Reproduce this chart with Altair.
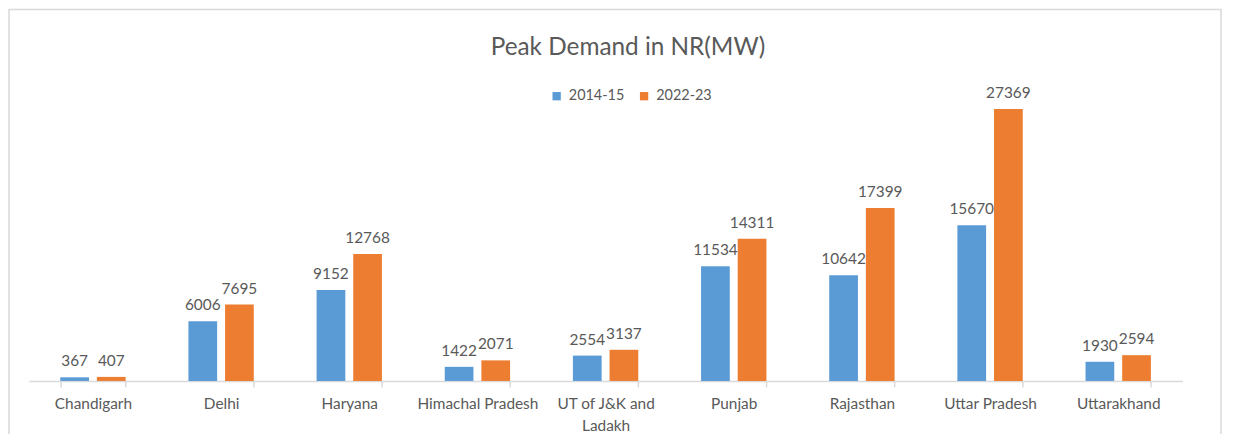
import altair as alt
import pandas as pd

states = ["Chandigarh", "Delhi", "Haryana", "Himachal Pradesh", "UT of J&K and Ladakh",
          "Punjab", "Rajasthan", "Uttar Pradesh", "Uttarakhand"]
fy_2014_15 = [367, 6006, 9152, 1422, 2554, 11534, 10642, 15670, 1930]
fy_2022_23 = [407, 7695, 12768, 2071, 3137, 14311, 17399, 27369, 2594]
series = ["2014-15", "2022-23"]
colors = ["#5B9BD5", "#ED7D31"]
title_text = "Peak Demand in NR(MW)"

rows = []
for s, a, b in zip(states, fy_2014_15, fy_2022_23):
    rows.append({"State": s, "Year": series[0], "MW": a})
    rows.append({"State": s, "Year": series[1], "MW": b})
df = pd.DataFrame(rows)

FONT = "Lato"

x = alt.X("State:N", sort=states, title=None,
          scale=alt.Scale(paddingInner=0.49, paddingOuter=0.245),
          axis=alt.Axis(labelAngle=0, labelFont=FONT, labelFontSize=15.5, labelColor="#595959",
                        domainColor="#D9D9D9", domainWidth=1.5, tickColor="#D9D9D9",
                        tickWidth=1.5, tickSize=6, tickBand="extent", labelPadding=10,
                        labelLineHeight=22,
                        labelExpr="datum.label == 'UT of J&K and Ladakh' ? ['UT of J&K and', 'Ladakh'] : datum.label"))
y = alt.Y("MW:Q", scale=alt.Scale(domain=[0, 30000]), axis=None)

base = alt.Chart(df).encode(
    x=x, y=y,
    xOffset=alt.XOffset("Year:N", sort=series, scale=alt.Scale(paddingInner=0.216, paddingOuter=0)),
)

bars = base.mark_bar().encode(
    color=alt.Color("Year:N", sort=series,
                    scale=alt.Scale(domain=series, range=colors),
                    legend=alt.Legend(title=None, orient="none", direction="horizontal",
                                      legendX=524, legendY=6, symbolType="square",
                                      symbolSize=70, symbolStrokeWidth=0, labelFont=FONT,
                                      labelFontSize=14.5, labelColor="#595959",
                                      columnPadding=12, labelOffset=5))
)

labels = base.mark_text(baseline="bottom", dy=-8, font=FONT, fontSize=15.5, color="#595959").encode(
    text=alt.Text("MW:Q", format="d")
)

border = alt.Chart(pd.DataFrame({"b": [0]})).mark_rect(
    fill=None, stroke="#D9D9D9", strokeWidth=1.5
).encode(x=alt.value(-20), x2=alt.value(1200), y=alt.value(-74), y2=alt.value(380))

title = alt.Chart(pd.DataFrame({"t": [title_text]})).mark_text(
    font=FONT, fontSize=24.5, color="#595959", align="center", baseline="middle"
).encode(text="t:N", x=alt.value(603), y=alt.value(-35))

chart = alt.layer(border, bars, labels, title).properties(
    width=1161, height=300,
    autosize=alt.AutoSizeParams(type="none"),
    padding={"left": 21, "top": 74, "right": 46, "bottom": 52},
).configure_view(stroke=None)

chart.save("out.html", embed_options={"renderer": "svg", "actions": False})
